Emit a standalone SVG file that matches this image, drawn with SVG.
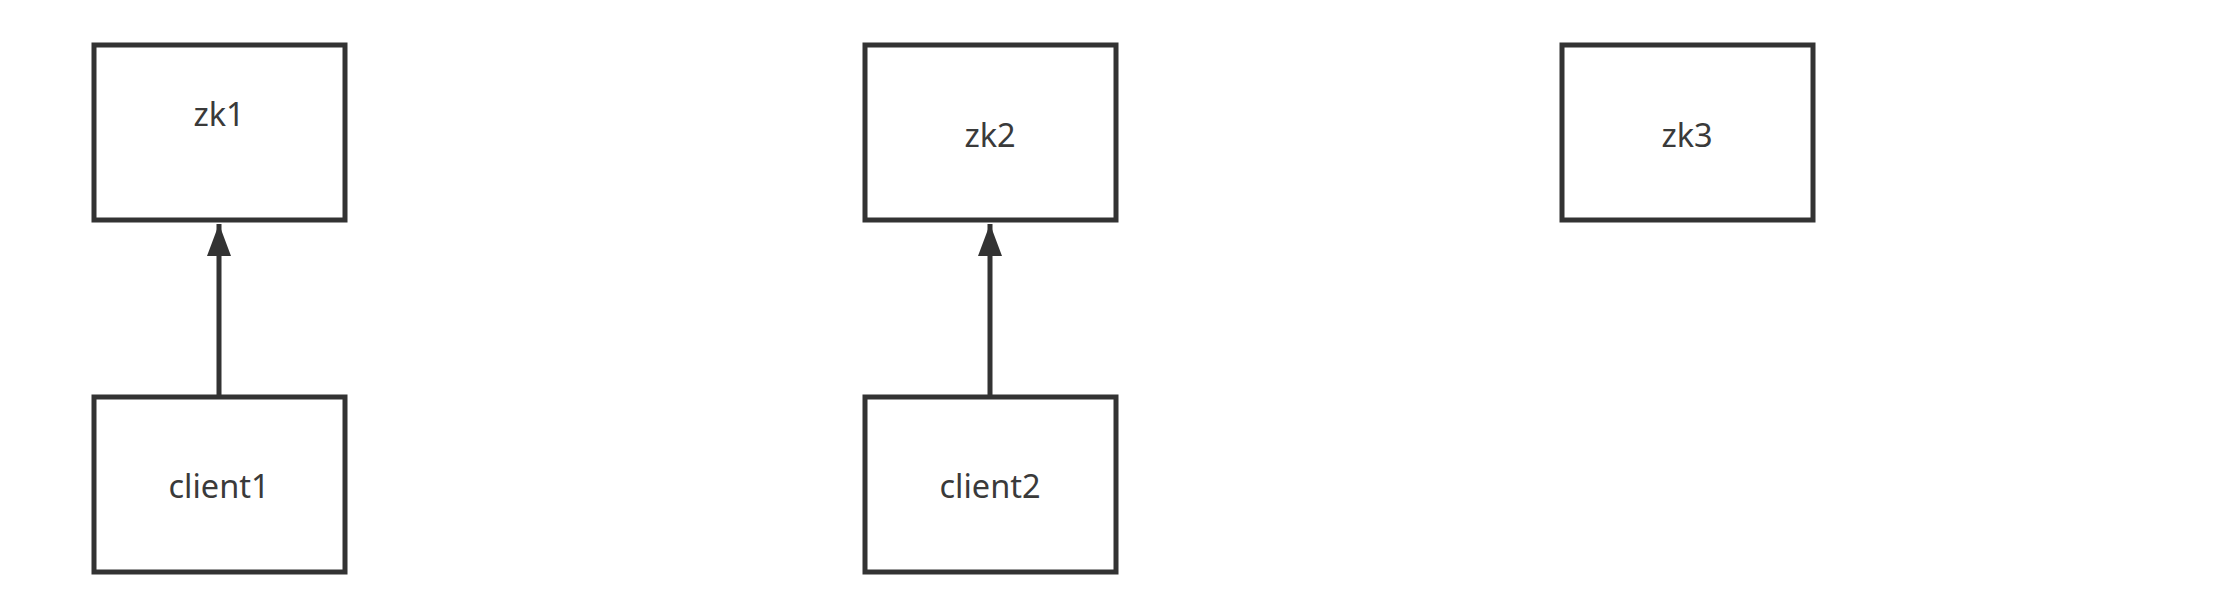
<svg xmlns="http://www.w3.org/2000/svg" width="2215" height="601" viewBox="0 0 2215 601">
<style>
.box{fill:#ffffff;stroke:#333333;stroke-width:5}
.lbl{font-family:"Noto Sans","Liberation Sans",sans-serif;font-size:32.5px;fill:#3a3a3a;text-anchor:middle;dominant-baseline:central}
.edge{stroke:#333333;stroke-width:5;fill:none}
</style>
<defs>
<marker id="arr" markerUnits="userSpaceOnUse" markerWidth="34" markerHeight="26" refX="32" refY="12" orient="auto" viewBox="0 0 34 26">
<path d="M0,0 L32,12 L0,24 Z" fill="#333333"/>
</marker>
</defs>
<rect width="2215" height="601" fill="#ffffff"/>
<g id="zk1"><rect class="box" x="94" y="45" width="251" height="175"/><text class="lbl" x="219" y="113">zk1</text></g>
<g id="client1"><rect class="box" x="94" y="397" width="251" height="175"/><text class="lbl" x="219" y="485">client1</text></g>
<g id="zk2"><rect class="box" x="865" y="45" width="251" height="175"/><text class="lbl" x="990" y="134">zk2</text></g>
<g id="client2"><rect class="box" x="865" y="397" width="251" height="175"/><text class="lbl" x="990" y="485">client2</text></g>
<g id="zk3"><rect class="box" x="1562" y="45" width="251" height="175"/><text class="lbl" x="1687" y="134">zk3</text></g>
<g id="connectors">
<line class="edge" x1="219" y1="397" x2="219" y2="224" marker-end="url(#arr)"/>
<line class="edge" x1="990" y1="397" x2="990" y2="224" marker-end="url(#arr)"/>
</g>
</svg>
